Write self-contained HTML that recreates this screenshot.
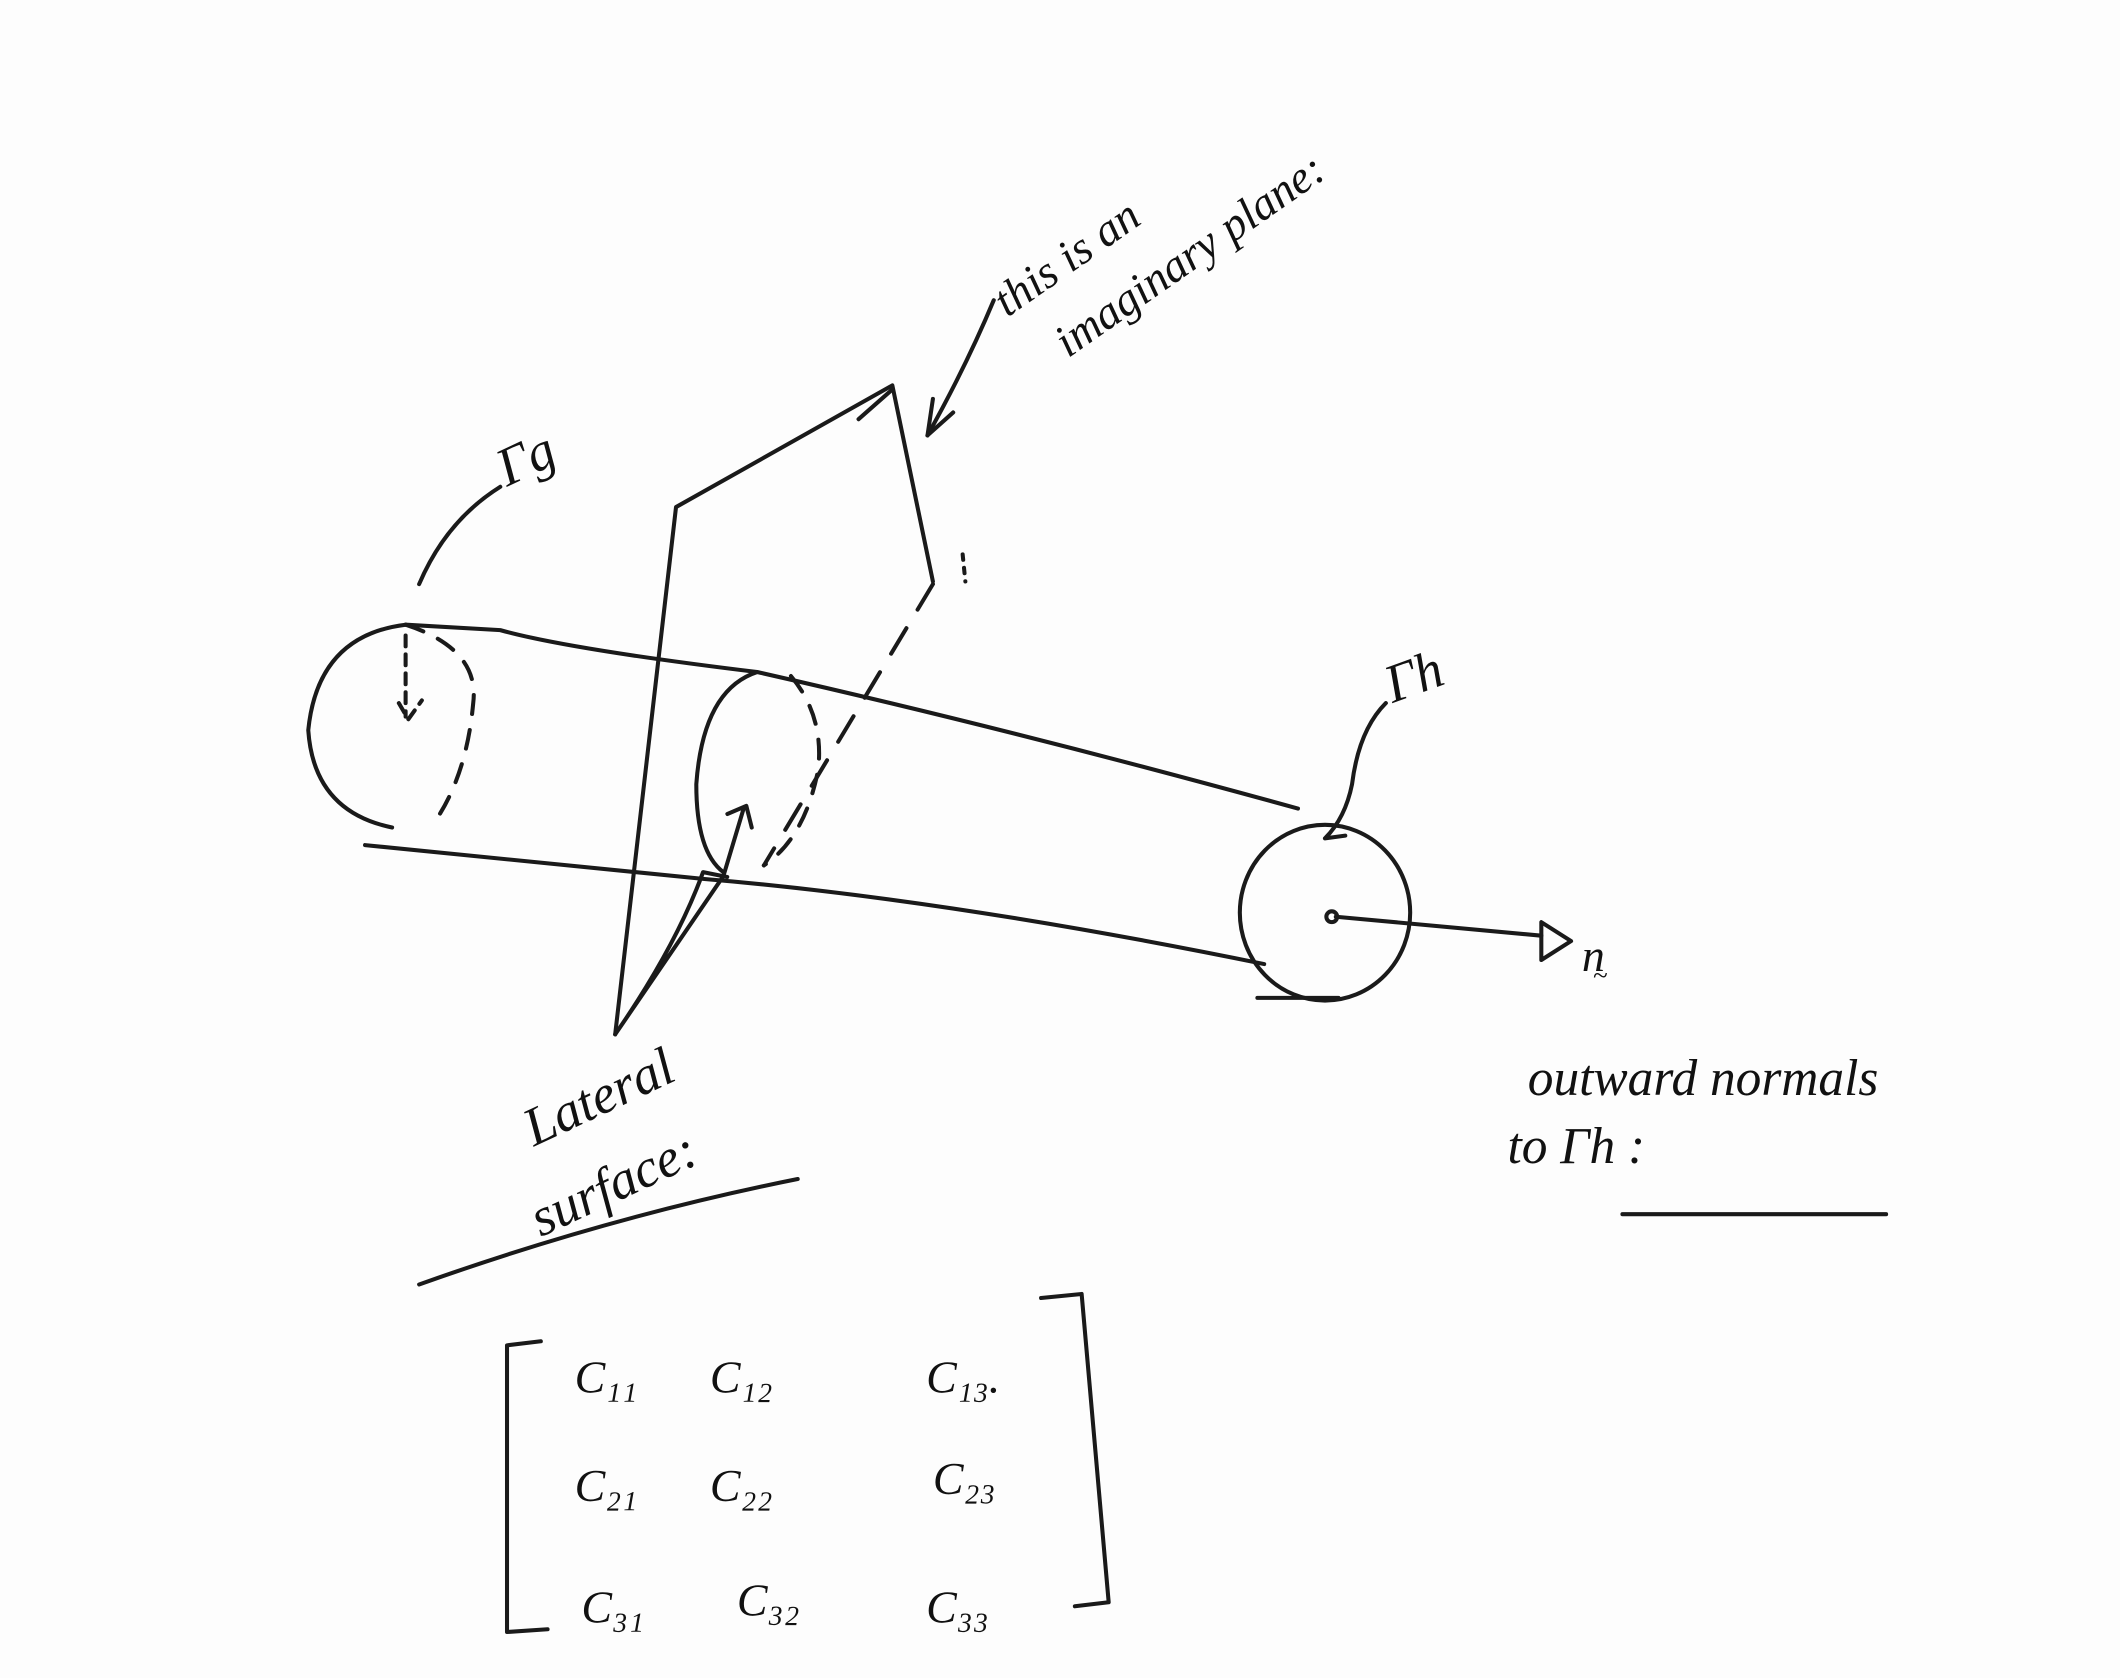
<!DOCTYPE html>
<html><head><meta charset="utf-8"><style>
html,body{margin:0;padding:0;background:#fff;}
svg{display:block;}
text{font-family:"Liberation Serif",serif;font-style:italic;fill:#111;}
</style></head><body>
<svg width="2120" height="1678" viewBox="0 0 1568 1241" xmlns="http://www.w3.org/2000/svg">
<rect width="1568" height="1241" fill="#fdfdfd"/>
<g fill="none" stroke="#1a1a1a" stroke-width="3" stroke-linecap="round" stroke-linejoin="round">
<!-- plane -->
<path d="M455,765 L500,375 L660,285 L690,430"/>
<path d="M635,310 L660,288"/>
<path d="M690,432 L565,640" stroke-dasharray="22,16"/>
<path d="M712,410 L714,430" stroke-dasharray="4,6"/>
<!-- arrow to plane -->
<path d="M735,222 Q715,270 686,322"/>
<path d="M686,322 L690,295 M686,322 L705,305"/>
<!-- left end ellipse -->
<path d="M300,462 Q235,470 228,540 Q232,600 290,612"/>
<path d="M300,462 Q355,480 350,520 Q345,575 320,610" stroke-dasharray="14,12"/>
<path d="M300,470 L300,530 M295,520 L302,532 L312,518" stroke-dasharray="8,6"/>
<!-- Γg leader -->
<path d="M310,432 Q330,385 370,360"/>
<!-- cylinder lines -->
<path d="M300,462 L370,466 Q420,480 560,497 Q750,540 960,598"/>
<path d="M270,625 L520,650 Q700,665 935,713"/>
<!-- middle section ellipse -->
<path d="M560,497 Q520,510 515,580 Q515,630 535,645"/>
<path d="M585,500 Q610,530 605,570 Q595,620 565,640" stroke-dasharray="14,12"/>
<!-- lateral surface arrows -->
<path d="M455,765 L535,648 Q545,650 520,645 Q500,700 455,765"/>
<path d="M535,648 L550,598 M538,602 L552,596 L556,612"/>
<!-- right circle -->
<ellipse cx="980" cy="675" rx="63" ry="65"/>
<path d="M930,738 L990,738"/>
<!-- Γh leader -->
<path d="M1025,520 Q1005,540 1000,580 Q995,605 980,620 M980,620 L995,618"/>
<!-- normal arrow -->
<circle cx="985" cy="678" r="4"/>
<path d="M988,678 L1140,692"/>
<path d="M1140,682 L1140,710 L1162,696 Z"/>
<!-- underlines -->
<path d="M310,950 Q450,900 590,872"/>
<path d="M1200,898 L1395,898"/>
<!-- matrix brackets -->
<path d="M400,992 L375,995 L375,1207 L405,1205"/>
<path d="M770,960 L800,957 L820,1185 L795,1188"/>
</g>
<g font-size="34">
<text x="745" y="235" transform="rotate(-35 745 235)">this is an</text>
<text x="790" y="265" transform="rotate(-35 790 265)">imaginary plane:</text>
<text x="375" y="360" transform="rotate(-25 375 360)" font-size="40">Γg</text>
<text x="1030" y="520" transform="rotate(-20 1030 520)" font-size="40">Γh</text>
<text x="1170" y="718" font-size="34">n</text>
<text x="1178" y="728" font-size="20">~</text>
<text x="395" y="848" transform="rotate(-25 395 848)" font-size="40">Lateral</text>
<text x="400" y="915" transform="rotate(-25 400 915)" font-size="40">surface:</text>
<text x="1130" y="810" font-size="38">outward normals</text>
<text x="1115" y="860" font-size="38">to Γh :</text>
<text x="425" y="1030">C₁₁</text><text x="525" y="1030">C₁₂</text><text x="685" y="1030">C₁₃.</text>
<text x="425" y="1110">C₂₁</text><text x="525" y="1110">C₂₂</text><text x="690" y="1105">C₂₃</text>
<text x="430" y="1200">C₃₁</text><text x="545" y="1195">C₃₂</text><text x="685" y="1200">C₃₃</text>
</g>
</svg>
</body></html>
